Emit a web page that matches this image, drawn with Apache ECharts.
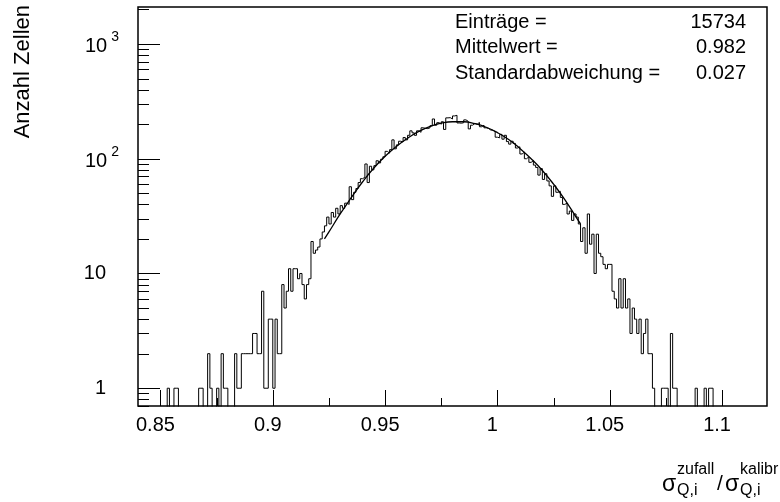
<!DOCTYPE html>
<html>
<head>
<meta charset="utf-8">
<script src="https://cdn.jsdelivr.net/npm/echarts@6/dist/echarts.min.js"></script>
<style>
  html, body { margin: 0; padding: 0; background: #fff; }
  #chart { width: 780px; height: 502px; }
</style>
</head>
<body>
<div id="chart"></div>
<script>
// histogram: 280 bins of width 0.001 starting at 0.84
const binLow = 0.84
const binWidth = 0.001
const counts = [
  0, 0, 0, 0, 0, 0, 0, 0, 0, 0, 0, 0, 0, 1, 0, 0, 1, 1, 0, 0,
  0, 0, 0, 0, 0, 0, 0, 1, 1, 0, 0, 2, 1, 0, 0, 1, 0, 2, 1, 1,
  0, 0, 0, 2, 1, 1, 2, 2, 2, 2, 2, 3, 3, 2, 2, 7, 1, 1, 4, 4,
  1, 4, 2, 2, 8, 5, 7, 11, 7, 11, 11, 9, 10, 8, 6, 8, 9, 19, 15, 16,
  17, 20, 23, 26, 31, 27, 34, 31, 37, 33, 39, 37, 41, 40, 57, 44, 51, 55, 62, 67,
  69, 90, 62, 86, 80, 87, 96, 92, 99, 104, 116, 112, 120, 146, 122, 132, 142, 140, 153, 146,
  160, 175, 168, 160, 175, 170, 186, 184, 183, 186, 194, 222, 196, 206, 200, 210, 180, 227, 228, 222,
  236, 239, 205, 204, 206, 218, 212, 182, 196, 203, 200, 207, 190, 196, 186, 184, 178, 177, 172, 154,
  152, 163, 148, 160, 141, 134, 142, 136, 124, 127, 110, 114, 100, 104, 93, 96, 88, 84, 72, 82,
  66, 74, 64, 58, 47, 58, 51, 52, 46, 40, 41, 33, 35, 29, 33, 31, 27, 19, 25, 15,
  33, 18, 22, 10, 22, 15, 14, 12, 11, 12, 12, 7, 6, 5, 9, 5, 9, 5, 6, 3,
  5, 4, 3, 4, 2, 3, 4, 2, 2, 1, 0, 0, 0, 1, 1, 1, 0, 3, 1, 1,
  0, 0, 0, 0, 0, 0, 0, 0, 1, 0, 0, 0, 1, 0, 1, 1, 0, 0, 0, 0,
  0, 0, 0, 0, 0, 0, 0, 0, 0, 0, 0, 0, 0, 0, 0, 0, 0, 0, 0, 0
]

// gauss fit curve
const fitX = [0.923, 0.925, 0.93, 0.935, 0.94, 0.945, 0.95, 0.955, 0.96, 0.965, 0.97, 0.975, 0.98,
  0.985, 0.99, 0.995, 1.0, 1.005, 1.01, 1.015, 1.02, 1.025, 1.03, 1.035, 1.037]
const fitY = [20, 23, 33, 46, 63, 83, 105, 128, 151, 173, 191, 204, 210,
  210, 202, 188, 169, 147, 123, 100, 79, 60, 44, 31, 27]

const xMajorTicks = [0.85, 0.9, 0.95, 1, 1.05, 1.1]
const xMinorTicks = [0.875, 0.925, 0.975, 1.025, 1.075]
const yMajorTicks = [1, 10, 100, 1000]
const yMinorTicks = [0.7, 0.8, 0.9, 2, 3, 4, 5, 6, 7, 8, 9,
  20, 30, 40, 50, 60, 70, 80, 90, 200, 300, 400, 500, 600, 700, 800, 900, 2000]

const statNames = ['Einträge =', 'Mittelwert =', 'Standardabweichung =']
const statValues = ['15734', '0.982', '0.027']

const FONT = '"Liberation Sans", Arial, Helvetica, sans-serif'

const chart = echarts.init(document.getElementById('chart'))

const histData = counts.map((c, i) => [+(binLow + i * binWidth).toFixed(3), c > 0 ? c : 0.1])
histData.push([+(binLow + counts.length * binWidth).toFixed(3), 0.1])

const xTickData = xMajorTicks.map(v => [v, 1, 16]).concat(xMinorTicks.map(v => [v, 1, 8]))
const yTickData = yMajorTicks.map(v => [0.9, v, 22]).concat(yMinorTicks.map(v => [0.9, v, 11]))

function renderXTick(params, api) {
  const p = api.coord([api.value(0), 1])
  const bottom = params.coordSys.y + params.coordSys.height
  const x = Math.round(p[0]) + 0.5
  return {
    type: 'line',
    shape: { x1: x, y1: bottom, x2: x, y2: bottom - api.value(2) },
    style: { stroke: '#000', lineWidth: 1 }
  }
}

function renderYTick(params, api) {
  const p = api.coord([0.9, api.value(1)])
  const left = params.coordSys.x
  const y = Math.round(p[1]) + 0.5
  return {
    type: 'line',
    shape: { x1: left, y1: y, x2: left + api.value(2), y2: y },
    style: { stroke: '#000', lineWidth: 1 }
  }
}

function yLabel(v) {
  const e = Math.log10(v)
  if (Math.abs(e - Math.round(e)) > 1e-6) return ''
  const n = Math.round(e)
  if (n === 0) return '{m|1}{p|}'
  if (n === 1) return '{m|10}{p|}'
  return '{n|10}{s|' + n + '}'
}

function xLabel(v) {
  const k = Math.round(v * 1000)
  if (k % 50 !== 0) return ''
  return String(k / 1000)
}

const statTexts = []
statNames.forEach((name, i) => {
  statTexts.push({
    type: 'text', x: 455, y: 22 + i * 25.5,
    style: { text: name, font: '20px ' + FONT, fill: '#000', textAlign: 'left', textVerticalAlign: 'middle' }
  })
  statTexts.push({
    type: 'text', x: 746, y: 22 + i * 25.5,
    style: { text: statValues[i], font: '20px ' + FONT, fill: '#000', textAlign: 'right', textVerticalAlign: 'middle' }
  })
})

const option = {
  animation: false,
  backgroundColor: '#fff',
  grid: {
    left: 138, right: 13, top: 7, bottom: 96,
    show: true, borderColor: '#000', borderWidth: 1.5, backgroundColor: 'transparent'
  },
  xAxis: {
    type: 'value', min: 0.84, max: 1.12, interval: 0.01,
    axisLine: { show: false }, axisTick: { show: false }, splitLine: { show: false },
    axisLabel: { formatter: xLabel, fontSize: 20, fontFamily: FONT, color: '#000', margin: 9, padding: [0, 10, 0, 0] }
  },
  yAxis: {
    type: 'log', logBase: 10, min: 0.7, max: 2100,
    axisLine: { show: false }, axisTick: { show: false }, splitLine: { show: false },
    minorTick: { show: false },
    axisLabel: {
      formatter: yLabel, color: '#000', margin: 19, fontFamily: FONT,
      rich: {
        m: { fontSize: 20, fontFamily: FONT, color: '#000' },
        p: { width: 13 },
        n: { fontSize: 20, fontFamily: FONT, color: '#000', lineHeight: 20, padding: [6, 0, 0, 0] },
        s: { fontSize: 14, fontFamily: FONT, color: '#000', lineHeight: 14, padding: [0, 0, 14, 4] }
      }
    }
  },
  series: [
    {
      name: 'Zellen', type: 'line', step: 'end', data: histData, symbol: 'none', clip: true,
      lineStyle: { color: '#000', width: 1 }, silent: true
    },
    {
      name: 'Fit', type: 'line', smooth: true, data: fitX.map((x, i) => [x, fitY[i]]),
      symbol: 'none', clip: true, lineStyle: { color: '#000', width: 1.3 }, silent: true
    },
    { type: 'custom', renderItem: renderXTick, data: xTickData, silent: true },
    { type: 'custom', renderItem: renderYTick, data: yTickData, silent: true }
  ],
  graphic: [
    {
      type: 'text', x: 23, y: 5, rotation: Math.PI / 2,
      style: { text: 'Anzahl Zellen', font: '22px ' + FONT, fill: '#000', textAlign: 'right', textVerticalAlign: 'middle' }
    },
    { type: 'text', x: 662, y: 485, style: { text: 'σ', font: '23px ' + FONT, fill: '#000', textVerticalAlign: 'middle' } },
    { type: 'text', x: 677, y: 470, style: { text: 'zufall', font: '16px ' + FONT, fill: '#000', textVerticalAlign: 'middle' } },
    { type: 'text', x: 677, y: 491, style: { text: 'Q,i', font: '16px ' + FONT, fill: '#000', textVerticalAlign: 'middle' } },
    { type: 'text', x: 717, y: 484, style: { text: '/', font: '21px ' + FONT, fill: '#000', textVerticalAlign: 'middle' } },
    { type: 'text', x: 725, y: 485, style: { text: 'σ', font: '23px ' + FONT, fill: '#000', textVerticalAlign: 'middle' } },
    { type: 'text', x: 740, y: 470, style: { text: 'kalibr', font: '16px ' + FONT, fill: '#000', textVerticalAlign: 'middle' } },
    { type: 'text', x: 740, y: 491, style: { text: 'Q,i', font: '16px ' + FONT, fill: '#000', textVerticalAlign: 'middle' } }
  ].concat(statTexts)
}

chart.setOption(option)
</script>
</body>
</html>
